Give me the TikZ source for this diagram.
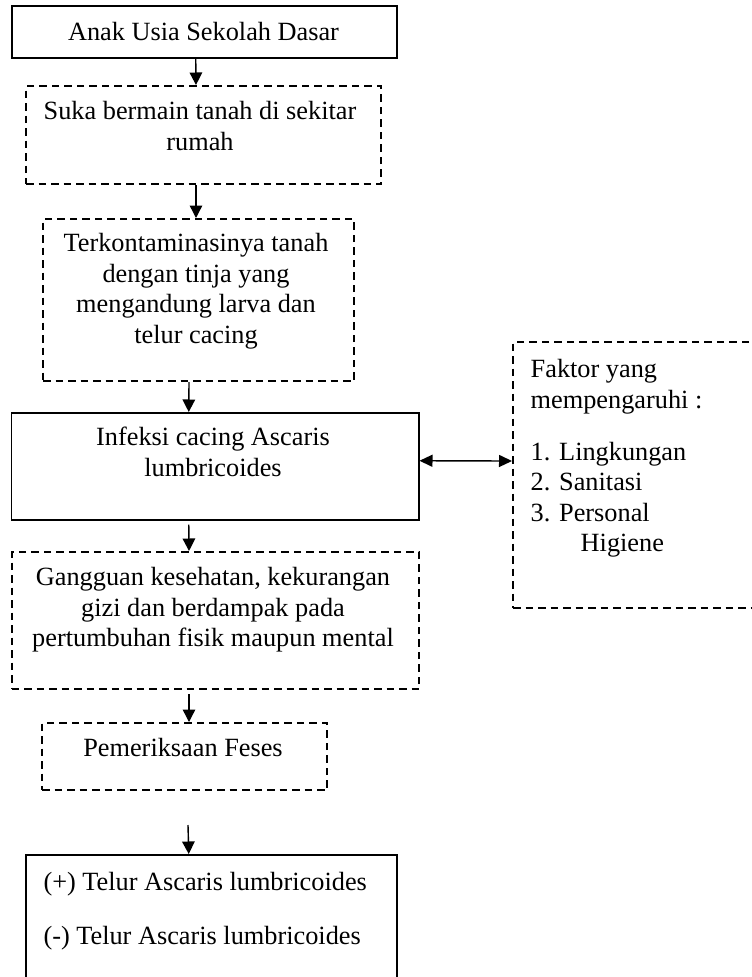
\documentclass[tikz,border=0pt]{standalone}
\usepackage{fontspec}
\setmainfont{Liberation Serif}
\usetikzlibrary{arrows.meta}
\begin{document}
\begin{tikzpicture}[x=1pt,y=-1pt,
  sbox/.style={draw, line width=1.5pt, rectangle, inner sep=0pt, anchor=north west},
  dbox/.style={draw, line width=2pt, dash pattern=on 7.5pt off 5pt, rectangle, inner sep=0pt, anchor=north west},
  txt/.style={inner sep=0pt, font=\fontsize{26.3}{30.4}\selectfont},
  arr/.style={line width=1.4pt, -{Triangle[length=12.5pt,width=12.5pt]}},
  darr/.style={line width=1.4pt, {Triangle[length=13pt,width=12pt]}-{Triangle[length=13pt,width=12pt]}}]
\clip (0,0) rectangle (752,977);
\useasboundingbox (0,0) rectangle (752,977);
% boxes
\node[sbox, minimum width=385pt, minimum height=52pt] (b1) at (11,5) {};
\node[dbox, minimum width=355pt, minimum height=98pt] (b2) at (25,85) {};
\node[dbox, minimum width=311pt, minimum height=162pt] (b3) at (42,218) {};
\node[sbox, minimum width=407.5pt, minimum height=107pt] (b4) at (10.5,412) {};
\node[dbox, minimum width=260pt, minimum height=266pt] (bf) at (512,341) {};
\node[dbox, minimum width=407.5pt, minimum height=137pt] (b5) at (10.5,551) {};
\node[dbox, minimum width=285pt, minimum height=67pt] (b6) at (41,722) {};
\node[sbox, minimum width=371pt, minimum height=140pt] (b7) at (25,854) {};
% texts (base anchor = baseline of the last line)
\node[txt, anchor=base] (t1) at (203.5,40.7) {Anak Usia Sekolah Dasar};
\node[txt, anchor=base, align=center] (t2) at (200,150) {Suka bermain tanah di sekitar\\rumah};
\node[txt, anchor=base, align=center] (t3) at (196,343) {Terkontaminasinya tanah\\dengan tinja yang\\mengandung larva dan\\telur cacing};
\node[txt, anchor=base, align=center] (t4) at (213,476) {Infeksi cacing Ascaris\\lumbricoides};
\node[txt, anchor=base west, align=left] (tf) at (530.5,551.7) {Faktor yang\\mempengaruhi :\\[22pt]1. Lingkungan\\2. Sanitasi\\3. Personal\\\hspace*{50pt}Higiene};
\node[txt, anchor=base, align=center] (t5) at (213,646.7) {Gangguan kesehatan, kekurangan\\gizi dan berdampak pada\\pertumbuhan fisik maupun mental};
\node[txt, anchor=base] (t6) at (183,756.7) {Pemeriksaan Feses};
\node[txt, anchor=base west, align=left] (t7) at (43.3,944) {(+) Telur Ascaris lumbricoides\\[23.6pt](-) Telur Ascaris lumbricoides};
% connectors
\coordinate (a6) at (188,825);
\draw[arr] ([xshift=-8.5pt]b1.south) -- ([xshift=-7.5pt]b2.north);
\draw[arr] ([xshift=-7.5pt]b2.south) -- ([xshift=-2.5pt]b3.north);
\draw[arr] ([xshift=-9.5pt]b3.south) -- ([xshift=-26.25pt]b4.north);
\draw[arr, shorten <=4pt] ([xshift=-26.25pt]b4.south) -- ([xshift=-26.25pt]b5.north);
\draw[arr, shorten <=4pt] ([xshift=-26.25pt]b5.south) -- ([xshift=4.5pt]b6.north);
\draw[arr] (a6) -- ([xshift=-22.5pt]b7.north);
\draw[darr] ([yshift=5.5pt]b4.east) -- ([yshift=14pt]bf.west);
\end{tikzpicture}
\end{document}
